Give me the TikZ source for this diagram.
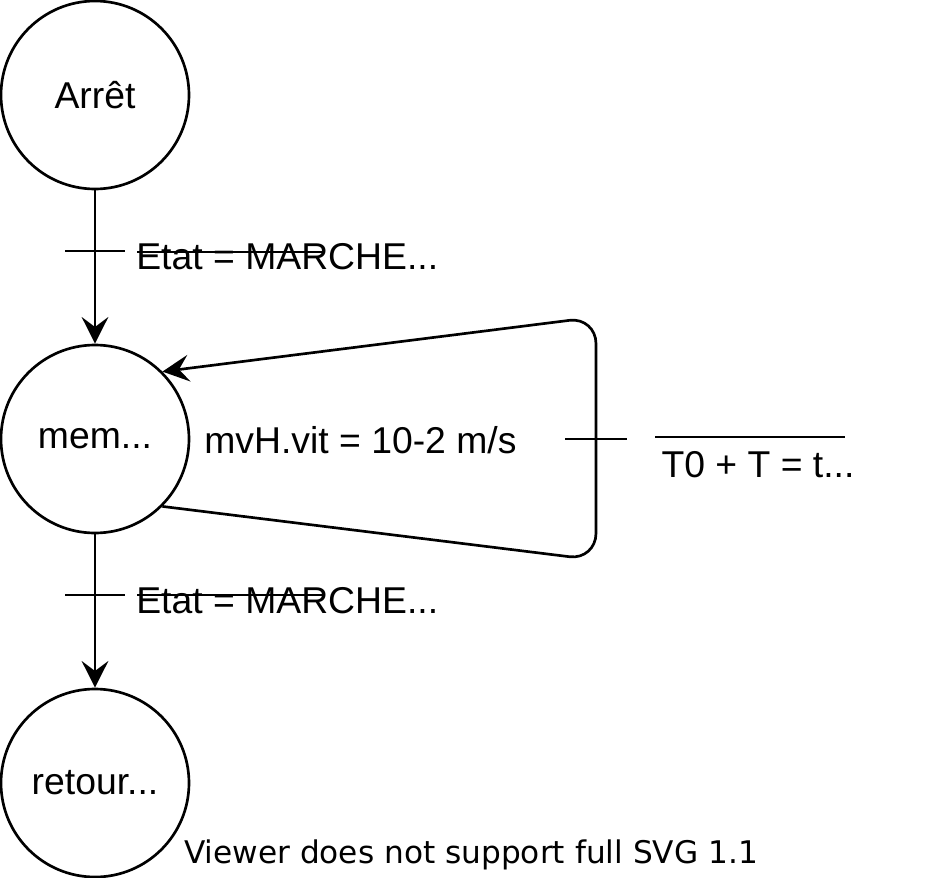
\documentclass[tikz,border=0pt]{standalone}
\usepackage{fontspec}
\setmainfont{Liberation Sans}
\newfontfamily\viewerfont{DejaVu Sans}
\usetikzlibrary{positioning,arrows.meta}

\begin{document}
\begin{tikzpicture}[
  x=0.75pt, y=-0.75pt,
  line width=2pt,
  font=\fontsize{28}{32}\selectfont,
  etape/.style={draw,circle,minimum size=141pt,inner sep=0pt},
  lien/.style={-{Stealth[length=20pt,width=20pt,inset=7.5pt]}},
  lbl/.style={inner sep=0pt,anchor=west},
  node distance=115pt,
]
  \useasboundingbox (0,0) rectangle (939,878);

  \node[etape] (arret) at (95,95) {Arrêt};
  \node[etape,below=of arret] (mem) {mem...};
  \node[etape,below=of mem] (retour) {retour...};

  \draw[lien] (arret) -- (mem);
  \draw[lien] (mem) -- (retour);
  \draw[lien,rounded corners=20pt] (mem.-45) -- (596,560) -- (596,317) -- (mem.45);

  % transitions
  \draw (65,251) -- (125,251);
  \node[lbl] (cond1) at (135,257) {Etat = MARCHE...};
  \draw (137,252) -- (325,252);

  \draw (65,595) -- (125,595);
  \node[lbl] (cond2) at (135,601) {Etat = MARCHE...};
  \draw (137,595) -- (325,595);

  \node[lbl] (act) at (203,440) {mvH.vit = 10-2 m/s};
  \draw (565,439) -- (627,439);
  \draw (655,437) -- (845,437);
  \node (cond3) at (758,465) {T0 + T = t...};

  \node[font=\viewerfont\fontsize{23.4}{28}\selectfont] (msg) at (471,855) {Viewer does not support full SVG 1.1};
\end{tikzpicture}
\end{document}
